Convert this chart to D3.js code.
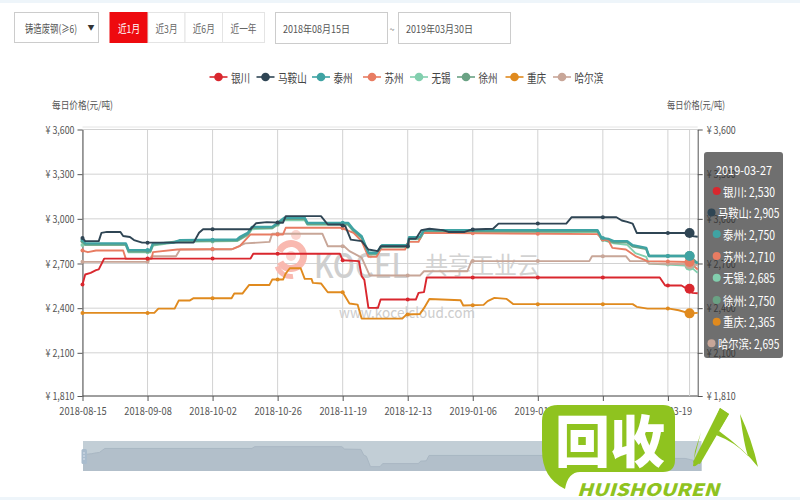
<!DOCTYPE html>
<html><head><meta charset="utf-8">
<script src="https://cdn.jsdelivr.net/npm/d3@7/dist/d3.min.js"></script>
<style>html,body{margin:0;padding:0;background:#fff}svg{display:block}text{font-family:"Noto Sans CJK SC","Noto Sans",sans-serif}</style>
</head><body><svg id="c" width="800" height="500"></svg>
<script>
// day offset from 2018-08-15, price
const yinchuan=[[0,2559],[1,2626],[3,2637],[5,2655],[6,2660],[8,2733],[62,2733],[63,2765],[95,2765],[96,2722],[102,2716],[103,2615],[104,2590],[105.5,2402],[109,2402],[110,2458],[123,2458],[124,2503],[126,2508],[127,2606],[213,2606],[215,2552],[221,2552],[223,2530],[225,2503],[227,2500]];
const maanshan=[[0,2872],[1,2850],[6,2850],[7,2906],[9,2912],[14,2912],[15,2885],[17.5,2878],[19,2857],[22,2840],[41,2840],[43,2906],[44.5,2930],[62,2930],[64,2970],[68,2978],[74,2974],[75,3018],[88,3018],[90.5,2962],[95,2962],[97,2950],[99,2860],[103,2850],[105.5,2794],[109,2783],[110,2816],[120,2816],[120.5,2866],[123,2866],[125,2924],[128,2933],[133,2924],[135,2912],[141,2912],[143.5,2928],[151.5,2933],[153.5,2968],[178.5,2968],[180.5,3011],[197,3011],[199,2989],[201,2980],[203,2968],[204.5,2905],[224,2905],[225,2884],[227,2880]];
const taizhou=[[0,2860],[1,2835],[16,2835],[17,2790],[25,2790],[26,2835],[33.5,2840],[36,2857],[57,2861],[58,2877],[61,2906],[62.5,2946],[70,2946],[74.5,3007],[82,3007],[83,2973],[98,2973],[100,2928],[103,2883],[105.5,2772],[108.5,2772],[110.5,2823],[120,2823],[120.5,2877],[124.5,2877],[126,2924],[190,2924],[191.5,2872],[194,2865],[196,2850],[201,2850],[203,2823],[208,2805],[209,2750],[224,2750],[225,2715],[227,2704]];
const suzhou=[[0,2787],[2,2776],[5,2787],[15,2787],[16,2731],[25.5,2731],[26,2776],[35,2794],[55.5,2798],[58,2816],[62,2895],[74,2895],[75,2940],[95.5,2940],[100,2906],[103,2850],[105.5,2745],[108.5,2745],[110,2794],[119,2794],[120.5,2845],[124,2845],[125.5,2906],[190,2897],[192,2861],[194,2857],[195.5,2805],[200.5,2794],[204,2750],[208.5,2716],[224,2710],[227,2660]];
const wuxi=[[0,2825],[16,2825],[17,2775],[25,2775],[26,2820],[36,2845],[57,2850],[61,2890],[62.5,2930],[70,2935],[74.5,2990],[82,2990],[83,2960],[98,2960],[100,2915],[103,2870],[105.5,2760],[108.5,2760],[110.5,2810],[120,2810],[120.5,2862],[124.5,2862],[126,2912],[190,2912],[191.5,2860],[196,2835],[201,2825],[204,2770],[208,2745],[209,2700],[224,2685],[227,2637]];
const xuzhou=[[0,2850],[1,2828],[16,2828],[17,2782],[25,2782],[26,2828],[36,2850],[57,2855],[61,2898],[62.5,2940],[70,2940],[74.5,3000],[82,3000],[83,2966],[98,2966],[100,2920],[103,2876],[105.5,2766],[108.5,2766],[110.5,2816],[120,2816],[120.5,2870],[124.5,2870],[126,2918],[190,2918],[191.5,2866],[196,2843],[201,2843],[203,2816],[208,2798],[209,2750],[224,2750],[227,2700]];
const chongqing=[[0,2368],[26.5,2368],[28,2397],[34,2397],[35.5,2451],[39.5,2451],[41,2467],[55,2467],[56,2498],[59,2498],[61.5,2556],[69,2556],[70,2592],[74,2592],[75,2633],[76.5,2668],[80.5,2668],[82,2597],[84.5,2597],[85,2570],[88,2566],[90.5,2507],[96,2507],[98.5,2431],[101.5,2424],[103,2330],[118,2330],[119.5,2357],[124.5,2361],[126,2400],[128,2462],[139.5,2453],[140.5,2418],[148,2422],[149.5,2447],[152,2469],[156.5,2462],[159,2427],[203,2427],[204.5,2409],[208.5,2397],[216.5,2397],[220,2386],[224,2365],[227,2368]];
const haerbin=[[0,2711],[24,2711],[25.5,2749],[34.5,2749],[36,2794],[55,2794],[60,2835],[69,2845],[70,2900],[88.5,2900],[90.5,2816],[96.5,2816],[98.5,2783],[103,2740],[106,2619],[124.5,2619],[126,2648],[142,2648],[143.5,2716],[187,2716],[188,2749],[200.5,2749],[202,2716],[208,2716],[209,2700],[224,2695],[227,2690]];
const seriesNames=["银川","马鞍山","泰州","苏州","无锡","徐州","重庆","哈尔滨"];
const seriesData=[yinchuan,maanshan,taizhou,suzhou,wuxi,xuzhou,chongqing,haerbin];
const seriesColors=["#d9272e","#2f4554","#3fa3a3","#e87c62","#82cfae","#6aa284","#e08a1e","#c8a698"];
const drawOrder=[4,5,7,6,3,2,1,0];
const xTickDays=[0,24,48,72,96,120,144,168,192,216];
const xTickLabels=["2018-08-15","2018-09-08","2018-10-02","2018-10-26","2018-11-19","2018-12-13","2019-01-06","2019-01-30","2019-02-23","2019-03-19"];
const yTicks=[3600,3300,3000,2700,2400,2100,1810];
const hoverDay=224, hoverDate="2019-03-27";
const hoverValues=[2530,2905,2750,2710,2685,2750,2365,2695];
const rangeButtons=["近1月","近3月","近6月","近一年"];
const dateRange=["2018年08月15日","2019年03月30日"];

const svg=d3.select("#c");
const x=d3.scaleLinear().domain([0,227]).range([82.5,697.7]);
const y=d3.scaleLinear().domain([1810,3600]).range([396,129.5]);
const fmt=d3.format(",");
function T(p,s,px,py,size,width,fill,anchor){
  const t=p.append("text").attr("x",px).attr("y",py).attr("font-size",size).attr("fill",fill||"#555").attr("text-anchor",anchor||"start").attr("dominant-baseline","central").text(s);
  if(width) t.attr("textLength",width).attr("lengthAdjust","spacingAndGlyphs");
  return t;
}
const valueAt=(d,day)=>{const i=d3.bisector(e=>e[0]).left(d,day);
  if(i<=0)return d[0][1]; if(i>=d.length)return d[d.length-1][1];
  const a=d[i-1],b=d[i];return d3.interpolateNumber(a[1],b[1])((day-a[0])/(b[0]-a[0]));};

svg.append("rect").attr("width",800).attr("height",3).attr("fill","#eef5fa");
svg.append("rect").attr("y",497).attr("width",800).attr("height",3).attr("fill","#eef5fa");

// toolbar
const bar=svg.append("g");
const box=(a,b,c,d,fill,stroke)=>bar.append("rect").attr("x",a+.5).attr("y",c+.5).attr("width",b-a).attr("height",d-c).attr("fill",fill||"#fff").attr("stroke",stroke||"#ccc");
box(14,98,12,42);
T(bar,"铸造废钢(≥6)",25,28,11,52,"#555");
T(bar,"▼",91,27,7,0,"#333","middle");
const bx=[109.5,147.5,184.5,222,264];
rangeButtons.forEach((s,i)=>{
  box(bx[i],bx[i+1],12,42,i==0?"#ee0a0f":"#fff",i==0?"#ee0a0f":"#e4e4e4");
  T(bar,s,(bx[i]+bx[i+1])/2+.5,28,11,i==3?26:22,i==0?"#fff":"#666","middle");
});
box(275,387,12,43);box(398,510,12,43);
T(bar,dateRange[0],283,28,10.5,67,"#555");
T(bar,"~",392,29,9,0,"#666","middle");
T(bar,dateRange[1],406,28,10.5,67,"#555");

// legend
const legendX=[218.5,265.5,321,372,419,466,514.5,562];
const lg=svg.append("g");
seriesNames.forEach((s,i)=>{
  lg.append("line").attr("x1",legendX[i]-9).attr("x2",legendX[i]+9).attr("y1",77).attr("y2",77).attr("stroke",seriesColors[i]).attr("stroke-width",1.6);
  lg.append("circle").attr("cx",legendX[i]).attr("cy",77).attr("r",4.3).attr("fill",seriesColors[i]);
  T(lg,s,legendX[i]+12.5,77,12,s.length*9.6,"#444");
});

T(svg,"每日价格(元/吨)",52,104,10.5,61,"#555");
T(svg,"每日价格(元/吨)",667,104,10.5,58,"#555");

// grid
const grid=svg.append("g").attr("stroke","#d2d2d2").attr("stroke-width",1);
yTicks.forEach(v=>grid.append("line").attr("x1",x(0)).attr("x2",x(227)).attr("y1",y(v)).attr("y2",y(v)));
grid.append("line").attr("x1",x(0)).attr("x2",x(227)).attr("y1",y(3600)-2.5).attr("y2",y(3600)-2.5).attr("stroke","#e4e4e4");
xTickDays.forEach(v=>grid.append("line").attr("x1",x(v)).attr("x2",x(v)).attr("y1",y(3600)).attr("y2",y(1810)));

// watermark
const wm=svg.append("g");
wm.append("path").attr("d",d3.arc()({innerRadius:9,outerRadius:16,startAngle:-1.2,endAngle:4.2})).attr("transform","translate(291,256)").attr("fill","#f9b9b0");
wm.append("circle").attr("cx",291).attr("cy",256).attr("r",5).attr("fill","#fbd5cf");
wm.append("path").attr("d",d3.arc()({innerRadius:0,outerRadius:5,startAngle:0,endAngle:6.3})).attr("transform","translate(296,235)").attr("fill","#fbd5cf");
wm.append("path").attr("d",d3.arc()({innerRadius:12,outerRadius:17,startAngle:3,endAngle:4.4})).attr("transform","translate(291,262)").attr("fill","#f9b9b0");
T(wm,"KOCEL",314,263,34,94,"#cfcfcf").attr("font-weight",500);
T(wm,"共享工业云",425,263,24,115,"#d2d2d2");
T(wm,"www.kocelcloud.com",339,311,14.5,136,"#cdcdcd");

// axes
function styleAxis(g,w){
  g.selectAll("path.domain").attr("stroke","#555");
  g.selectAll(".tick line").attr("stroke","#555");
  g.selectAll("text").attr("font-size",11).attr("fill","#555").attr("textLength",w).attr("lengthAdjust","spacingAndGlyphs");
}
const yFmt=v=>"¥ "+fmt(v);
const gx=svg.append("g").attr("transform",`translate(0,${y(1810)})`).call(d3.axisBottom(x).tickValues(xTickDays).tickFormat((d,i)=>xTickLabels[i]).tickSize(5).tickSizeOuter(0)).call(styleAxis,47.5);
gx.selectAll("text").attr("dy",0).attr("y",14).attr("dominant-baseline","central");
gx.select("path.domain").attr("d",`M${x(0)},0H${x(227)}`);
const gl=svg.append("g").attr("transform",`translate(${x(0)},0)`).call(d3.axisLeft(y).tickValues(yTicks).tickFormat(yFmt).tickSize(5).tickSizeOuter(0)).call(styleAxis,29);
const gr=svg.append("g").attr("transform",`translate(${x(227)},0)`).call(d3.axisRight(y).tickValues(yTicks).tickFormat(yFmt).tickSize(5).tickSizeOuter(0)).call(styleAxis,29);
gr.selectAll("text").attr("x",9);

// crosshair
svg.append("line").attr("x1",x(hoverDay)).attr("x2",x(hoverDay)).attr("y1",y(3600)).attr("y2",y(1810)).attr("stroke","#d2d2d2");

// lines
const line=d3.line().x(d=>x(d[0])).y(d=>y(d[1]));
const plot=svg.append("g");
drawOrder.forEach(i=>{
  plot.append("path").attr("d",line(seriesData[i])).attr("fill","none").attr("stroke",seriesColors[i]).attr("stroke-width",i==2||i==5?2.4:1.9).attr("stroke-linejoin","round");
  xTickDays.forEach(dy=>plot.append("circle").attr("cx",x(dy)).attr("cy",y(valueAt(seriesData[i],dy))).attr("r",2).attr("fill",seriesColors[i]));
});
drawOrder.forEach(i=>plot.append("circle").attr("cx",x(hoverDay)).attr("cy",y(hoverValues[i])).attr("r",5).attr("fill",seriesColors[i]));

// slider
const sx=d3.scaleLinear().domain([0,227]).range([83,701.5]);
const sy=d3.scaleLinear().domain([2402,2765]).range([466.7,446.7]);
svg.append("rect").attr("x",83).attr("y",441).attr("width",618.5).attr("height",30).attr("fill","#c2ced6");
svg.append("path").attr("d",d3.area().x(d=>sx(d[0])).y0(471).y1(d=>sy(d[1]))(yinchuan)).attr("fill","#b2bfca");
svg.append("path").attr("d",d3.line().x(d=>sx(d[0])).y(d=>sy(d[1]))(yinchuan)).attr("fill","none").attr("stroke","#a9b7c3");
svg.append("rect").attr("x",81.5).attr("y",449).attr("width",5.5).attr("height",15).attr("rx",1.5).attr("fill","#a9bccd");
[453,456,459].forEach(v=>svg.append("circle").attr("cx",84).attr("cy",v).attr("r",.8).attr("fill","#dfe7ee"));

// tooltip
const tip=svg.append("g");
tip.append("rect").attr("x",704).attr("y",152).attr("width",79).attr("height",206).attr("rx",3).attr("fill","rgb(50,50,50)").attr("fill-opacity",.7);
T(tip,hoverDate,744,169,12.5,56,"#fff","middle");
const rowY=[191,212.5,234,256,277.7,300,321.7,343.3];
seriesNames.forEach((s,i)=>{
  const long=s.length==3;
  tip.append("circle").attr("cx",long?711.5:716.7).attr("cy",rowY[i]).attr("r",4).attr("fill",seriesColors[i]);
  T(tip,s+": "+fmt(hoverValues[i]),long?718:723,rowY[i],12.5,long?61.5:52,"#fff");
});

// corner logo
const logo=svg.append("g");
const G="#8fc31f";
logo.append("path").attr("d","M558,405H663Q675,405 675,417V460Q675,472 663,472H580Q568,472 565,489Q542,478 542,450V421Q542,405 558,405Z").attr("fill",G);
logo.append("rect").attr("x",542).attr("y",405).attr("width",0).attr("height",0);
T(logo,"回收",610,437,56,110,"#fff","middle").attr("font-weight",900);
T(logo,"HUISHOUREN",577,488,17,142,G).attr("font-weight",900).attr("font-style","italic").attr("font-family","Liberation Sans");
logo.append("path").attr("d","M720,408L729,414L700,462Q696,467 693,466L695,451L701,432L693,463L700,455Z").attr("fill",G);
logo.append("path").attr("d","M720,408L729,414L700,464L693,462Z").attr("fill",G);
logo.append("path").attr("d","M719,431Q745,450 758,467Q752,440 740,414Q744,445 748,456Q735,442 716,435Z").attr("fill",G);
</script></body></html>
